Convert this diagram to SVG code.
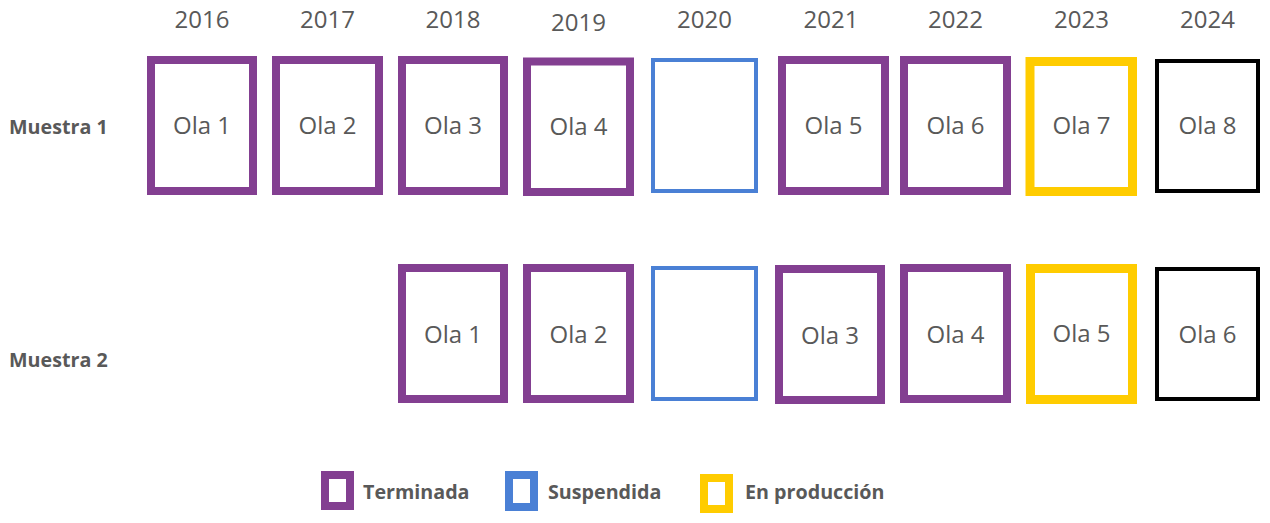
<svg xmlns="http://www.w3.org/2000/svg" width="1270" height="523" viewBox="0 0 1270 523">
<style>
.box{fill:#fff}
.t{stroke:#833F91;stroke-width:8}
.s{stroke:#4A80D5;stroke-width:4}
.p{stroke:#FFCC00;stroke-width:9}
.n{stroke:#000;stroke-width:4}
.ls{stroke-width:8}
text{font-family:"Open Sans","Noto Sans","Liberation Sans",sans-serif;fill:#595959}
.yr,.ola{font-size:24px;text-anchor:middle}
.lab{font-size:19.7px;font-weight:bold}
</style>
<rect width="1270" height="523" fill="#fff"/>
<g id="years">
<text class="yr" x="202" y="28">2016</text>
<text class="yr" x="327.5" y="28">2017</text>
<text class="yr" x="453" y="28">2018</text>
<text class="yr" x="578.5" y="31">2019</text>
<text class="yr" x="704.5" y="28">2020</text>
<text class="yr" x="831" y="28">2021</text>
<text class="yr" x="955.5" y="28">2022</text>
<text class="yr" x="1081.5" y="28">2023</text>
<text class="yr" x="1207.5" y="28">2024</text>
</g>
<g id="row-labels">
<text class="lab" x="9" y="134">Muestra 1</text>
<text class="lab" x="9" y="367">Muestra 2</text>
</g>
<g id="m1-2016"><rect class="box t" x="151" y="60" width="102" height="131"/><text class="ola" x="202" y="134">Ola 1</text></g>
<g id="m1-2017"><rect class="box t" x="276" y="60" width="103" height="131"/><text class="ola" x="327.5" y="134">Ola 2</text></g>
<g id="m1-2018"><rect class="box t" x="402" y="60" width="102" height="131"/><text class="ola" x="453" y="134">Ola 3</text></g>
<g id="m1-2019"><rect class="box t" x="527" y="61.5" width="103" height="130.5"/><text class="ola" x="578.5" y="135">Ola 4</text></g>
<g id="m1-2020"><rect class="box s" x="653" y="60" width="103" height="131"/></g>
<g id="m1-2021"><rect class="box t" x="782" y="60" width="103" height="131"/><text class="ola" x="833.5" y="134">Ola 5</text></g>
<g id="m1-2022"><rect class="box t" x="904" y="60" width="103" height="131"/><text class="ola" x="955.5" y="134">Ola 6</text></g>
<g id="m1-2023"><rect class="box p" x="1030" y="61.5" width="102.5" height="130"/><text class="ola" x="1081.5" y="134">Ola 7</text></g>
<g id="m1-2024"><rect class="box n" x="1157" y="61" width="101" height="130"/><text class="ola" x="1207.5" y="134">Ola 8</text></g>
<g id="m2-2018"><rect class="box t" x="402" y="268" width="102" height="131"/><text class="ola" x="453" y="343">Ola 1</text></g>
<g id="m2-2019"><rect class="box t" x="527" y="268" width="103" height="131"/><text class="ola" x="578.5" y="343">Ola 2</text></g>
<g id="m2-2020"><rect class="box s" x="653" y="268" width="103" height="131"/></g>
<g id="m2-2021"><rect class="box t" x="779" y="269" width="102" height="131"/><text class="ola" x="830" y="344">Ola 3</text></g>
<g id="m2-2022"><rect class="box t" x="904" y="268" width="103" height="131"/><text class="ola" x="955.5" y="343">Ola 4</text></g>
<g id="m2-2023"><rect class="box p" x="1030.5" y="268.5" width="102" height="131"/><text class="ola" x="1081.5" y="342">Ola 5</text></g>
<g id="m2-2024"><rect class="box n" x="1157" y="269" width="101" height="130"/><text class="ola" x="1207.5" y="343">Ola 6</text></g>
<g id="connectors"/>
<g id="legend">
<g id="leg-terminada"><rect class="box t" x="325" y="475" width="25" height="31"/><text class="lab" x="363" y="499">Terminada</text></g>
<g id="leg-suspendida"><rect class="box s ls" x="509" y="475" width="25" height="32"/><text class="lab" x="548" y="499">Suspendida</text></g>
<g id="leg-produccion"><rect class="box p ls" x="704" y="478" width="25" height="31"/><text class="lab" x="745" y="499">En producción</text></g>
</g>
</svg>
